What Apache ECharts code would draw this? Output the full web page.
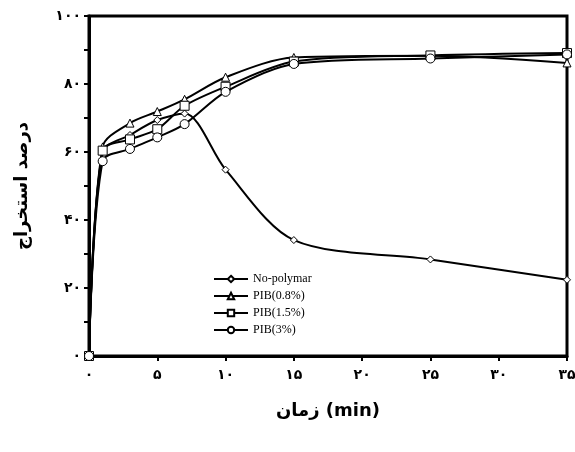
<!DOCTYPE html>
<html lang="fa" style="height: 100%">
<head>
    <meta charset="utf-8">
</head>
<body style="height: 100%; margin: 0; background: #fff">
<div id="container" style="width: 575px; height: 452px"></div>

<script type="text/javascript" src="https://cdn.jsdelivr.net/npm/echarts@6/dist/echarts.min.js"></script>
<script type="text/javascript">
    // زمان (min)
    var times = [0, 1, 3, 5, 7, 10, 15, 25, 35];

    // درصد استخراج
    var noPolymer = [0, 60, 65, 69.4, 71.3, 54.8, 34.1, 28.4, 22.4];
    var pib08 = [0, 61.5, 68.5, 71.9, 75.5, 82, 87.8, 88.3, 86.2];
    var pib15 = [0, 60.4, 63.7, 66.7, 73.6, 79.2, 86.6, 88.4, 89.1];
    var pib3 = [0, 57.3, 60.9, 64.3, 68.2, 77.7, 85.9, 87.5, 88.7];

    var seriesNames = ['No-polymar', 'PIB(0.8%)', 'PIB(1.5%)', 'PIB(3%)'];
    var seriesValues = [noPolymer, pib08, pib15, pib3];
    var symbols = ['diamond', 'triangle', 'rect', 'circle'];
    var symbolSizes = [7, 8, 9, 9];

    var faDigits = ['۰', '۱', '۲', '۳', '۴', '۵', '۶', '۷', '۸', '۹'];
    function toFa(n) {
        return String(n).replace(/\d/g, function (d) { return faDigits[+d]; });
    }

    var dom = document.getElementById('container');
    var myChart = echarts.init(dom);

    var series = seriesNames.map(function (name, i) {
        return {
            name: name,
            type: 'line',
            smooth: 0.3,
            data: times.map(function (t, j) { return [t, seriesValues[i][j]]; }),
            symbol: symbols[i],
            symbolSize: symbolSizes[i],
            showAllSymbol: true,
            lineStyle: { color: '#000', width: 2 },
            itemStyle: { color: '#fff', borderColor: '#000', borderWidth: 1 },
            z: 3 + i
        };
    });

    var option = {
        animation: false,
        backgroundColor: '#fff',
        grid: {
            left: 89, right: 8, top: 16, bottom: 96,
            outerBoundsMode: 'none',
            show: true, borderColor: '#000', borderWidth: 3
        },
        legend: {
            left: 208, top: 268,
            orient: 'vertical',
            itemWidth: 34, itemHeight: 8, itemGap: 5,
            data: seriesNames,
            textStyle: { fontFamily: 'Liberation Serif', fontSize: 12, color: '#000' }
        },
        xAxis: {
            type: 'value',
            min: 0, max: 35, interval: 5,
            name: 'زمان (min)',
            nameLocation: 'middle',
            nameGap: 46,
            nameTextStyle: { fontFamily: 'DejaVu Sans', fontWeight: 'bold', fontSize: 18, color: '#000' },
            axisLine: { lineStyle: { color: '#000', width: 3 } },
            axisTick: { inside: false, length: 5, lineStyle: { color: '#000', width: 2 } },
            axisLabel: {
                margin: 12,
                fontFamily: 'DejaVu Sans', fontWeight: 'bold', fontSize: 14, color: '#000',
                formatter: function (v) { return toFa(v); }
            },
            splitLine: { show: false }
        },
        yAxis: {
            type: 'value',
            min: 0, max: 100, interval: 10,
            name: 'درصد استخراج',
            nameLocation: 'middle',
            nameGap: 58,
            nameRotate: 90,
            nameTextStyle: { fontFamily: 'DejaVu Sans', fontWeight: 'bold', fontSize: 18, color: '#000' },
            axisLine: { lineStyle: { color: '#000', width: 3 } },
            axisTick: { inside: false, length: 5, lineStyle: { color: '#000', width: 2 } },
            axisLabel: {
                margin: 8,
                fontFamily: 'DejaVu Sans', fontWeight: 'bold', fontSize: 14, color: '#000',
                formatter: function (v) { return v % 20 === 0 ? toFa(v) : ''; }
            },
            splitLine: { show: false }
        },
        series: series
    };

    myChart.setOption(option);
    window.addEventListener('resize', myChart.resize);
</script>
</body>
</html>
